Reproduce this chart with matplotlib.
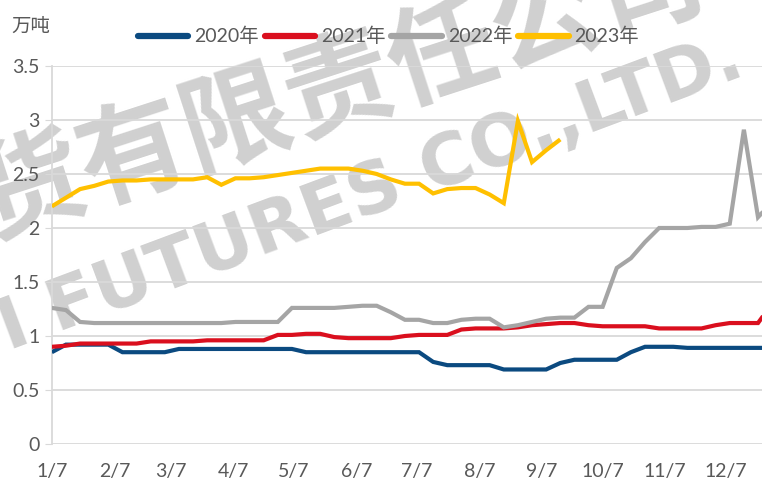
import datetime as dt
import numpy as np
import matplotlib.pyplot as plt
from matplotlib.lines import Line2D

# weekly readings, first point on 1/7
v2020 = [0.85, 0.92, 0.92, 0.92, 0.92, 0.85, 0.85, 0.85, 0.85, 0.88,
         0.88, 0.88, 0.88, 0.88, 0.88, 0.88, 0.88, 0.88, 0.85, 0.85,
         0.85, 0.85, 0.85, 0.85, 0.85, 0.85, 0.85, 0.76, 0.73, 0.73,
         0.73, 0.73, 0.69, 0.69, 0.69, 0.69, 0.75, 0.78, 0.78, 0.78,
         0.78, 0.85, 0.90, 0.90, 0.90, 0.89, 0.89, 0.89, 0.89, 0.89,
         0.89, 0.89]
v2021 = [0.90, 0.91, 0.93, 0.93, 0.93, 0.93, 0.93, 0.95, 0.95, 0.95,
         0.95, 0.96, 0.96, 0.96, 0.96, 0.96, 1.01, 1.01, 1.02, 1.02,
         0.99, 0.98, 0.98, 0.98, 0.98, 1.00, 1.01, 1.01, 1.01, 1.06,
         1.07, 1.07, 1.07, 1.08, 1.10, 1.11, 1.12, 1.12, 1.10, 1.09,
         1.09, 1.09, 1.09, 1.07, 1.07, 1.07, 1.07, 1.10, 1.12, 1.12,
         1.12, 1.30]
v2022 = [1.26, 1.24, 1.13, 1.12, 1.12, 1.12, 1.12, 1.12, 1.12, 1.12,
         1.12, 1.12, 1.12, 1.13, 1.13, 1.13, 1.13, 1.26, 1.26, 1.26,
         1.26, 1.27, 1.28, 1.28, 1.22, 1.15, 1.15, 1.12, 1.12, 1.15,
         1.16, 1.16, 1.08, 1.10, 1.13, 1.16, 1.17, 1.17, 1.27, 1.27,
         1.63, 1.72, 1.87, 2.00, 2.00, 2.00, 2.01, 2.01, 2.04, 2.91,
         2.10, 2.24]
v2023 = [2.20, 2.28, 2.36, 2.39, 2.43, 2.44, 2.44, 2.45, 2.45, 2.45,
         2.45, 2.47, 2.40, 2.46, 2.46, 2.47, 2.49, 2.51, 2.53, 2.55,
         2.55, 2.55, 2.53, 2.50, 2.45, 2.41, 2.41, 2.32, 2.36, 2.37,
         2.37, 2.31, 2.23, 2.99, 2.61, 2.72, 2.82]

series = [("2020年", v2020, "#0B4A80"),
          ("2021年", v2021, "#DA0F1E"),
          ("2022年", v2022, "#A5A5A5"),
          ("2023年", v2023, "#FFC000")]

tick_labels = [f"{m}/7" for m in range(1, 13)]
start = dt.date(2023, 1, 7)
tick_pos = [(dt.date(2023, m, 7) - start).days for m in range(1, 13)]

plt.rcParams['font.family'] = ['Lato', 'Noto Sans CJK SC', 'DejaVu Sans']
txt_col = "#595959"

fig = plt.figure(figsize=(7.62, 4.87), dpi=100)
ax = fig.add_axes([0.068, 0.0883, 0.94, 0.7762])
ax.set_facecolor('none')

# watermark, behind everything
wm = "#D0D0D0"
fig.text(-0.014, 0.516, "货有限责任公司", fontsize=78, color=wm,
         rotation=18, rotation_mode='anchor', fontweight='bold',
         family=['Noto Sans CJK SC'], zorder=-2)
fig.text(0.0105, 0.281, "I FUTURES CO.,LTD.", fontsize=52, color=wm,
         rotation=20.5, rotation_mode='anchor', fontweight='bold',
         family=['DejaVu Sans'], zorder=-2)

for name, vals, col in series:
    days = np.arange(len(vals)) * 7
    ax.plot(days, vals, color=col, lw=3.0, solid_capstyle='butt',
            solid_joinstyle='miter', zorder=3)

ax.set_xlim(0, 355)
ax.set_ylim(0, 3.5)
ax.set_yticks(np.arange(0, 3.51, 0.5))
ax.set_yticklabels(["0", "0.5", "1", "1.5", "2", "2.5", "3", "3.5"])
ax.set_xticks(tick_pos)
ax.set_xticklabels(tick_labels)
ax.yaxis.grid(True, color="#D9D9D9", lw=1.3)
ax.set_axisbelow(True)
for s in ["top", "right", "bottom"]:
    ax.spines[s].set_visible(False)
ax.spines["left"].set_color("#D9D9D9")
ax.spines["left"].set_linewidth(1.3)
ax.tick_params(axis='x', length=0, pad=14, labelsize=14, labelcolor=txt_col)
ax.tick_params(axis='y', length=5, color="#D9D9D9", pad=4, labelsize=14,
               labelcolor=txt_col)

fig.text(0.015, 0.935, "万吨", fontsize=14, color=txt_col,
         family=['Noto Sans CJK SC'])

handles = [Line2D([], [], color=c, lw=4.5, solid_capstyle='round')
           for _, _, c in series]
ax.legend(handles, [s[0] for s in series], loc='center',
          bbox_to_anchor=(0.47, 1.079), ncol=4, frameon=False, fontsize=14,
          handlelength=2.6, handletextpad=0.3, columnspacing=0.3,
          labelcolor=txt_col)

plt.savefig("out.png", dpi=100)
